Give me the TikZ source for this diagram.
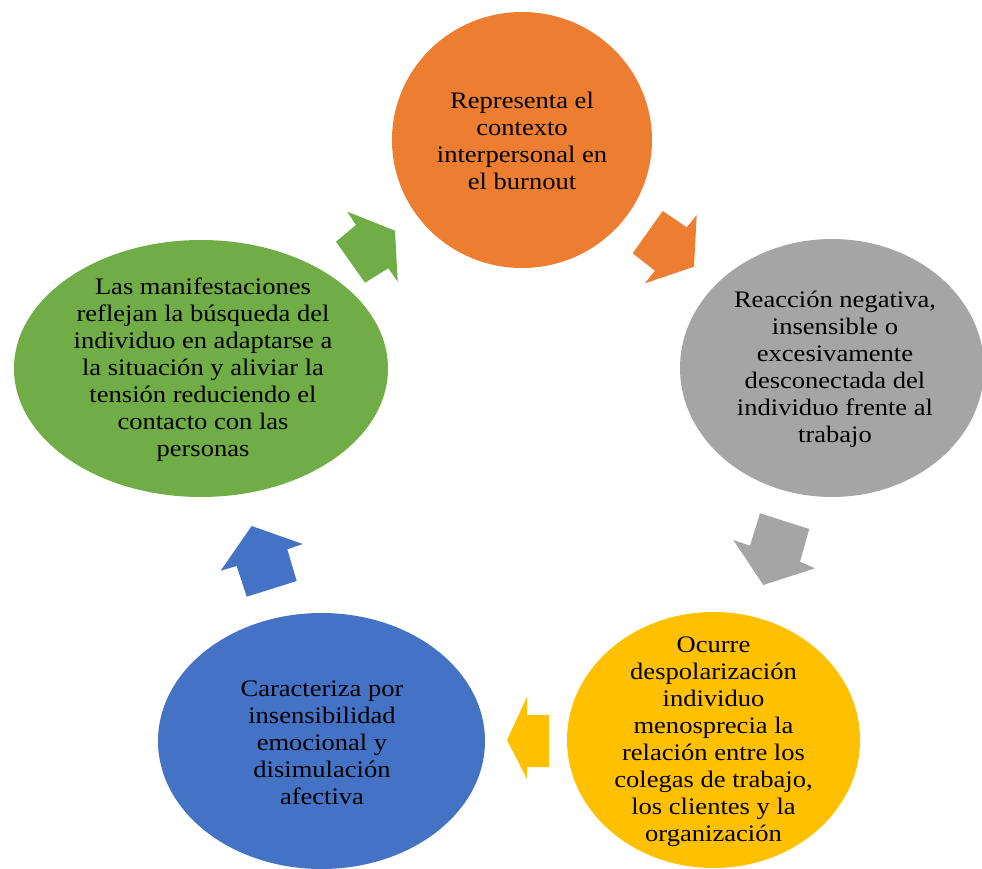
\documentclass[tikz,border=0pt]{standalone}
\usepackage{fontspec}
\setmainfont{Liberation Serif}[FakeStretch=1.12]
\definecolor{cOrange}{HTML}{ED7D31}
\definecolor{cGray}{HTML}{A5A5A5}
\definecolor{cYellow}{HTML}{FFC000}
\definecolor{cBlue}{HTML}{4472C4}
\definecolor{cGreen}{HTML}{70AD47}
\begin{document}
\begin{tikzpicture}[x=1pt,y=-1pt,
  blob/.style={ellipse, inner sep=0pt},
  lbl/.style={align=center, font=\fontsize{23.7}{27}\selectfont, text=black, inner sep=0pt},
  blockarrow/.style={draw=none}]
\useasboundingbox (0,0) rectangle (982,869);
% ellipses
\fill[cOrange] (522,140) ellipse [x radius=130, y radius=128];
\fill[cGray] (832,368) ellipse [x radius=152, y radius=129];
\fill[cYellow] (713.5,740) ellipse [x radius=146.5, y radius=128];
\fill[cBlue] (321.5,741) ellipse [x radius=163.5, y radius=128];
\fill[cGreen] (201,368.5) ellipse [x radius=187, y radius=128.5];
% labels
\node[lbl] (t1) at (522,141) {Representa el\\contexto\\interpersonal en\\el burnout};
\node[lbl] (t2) at (835,369) {Reacción negativa,\\insensible o\\excesivamente\\desconectada del\\individuo frente al\\trabajo};
\node[lbl] (t3) at (713.5,742) {Ocurre\\despolarización\\individuo\\menosprecia la\\relación entre los\\colegas de trabajo,\\los clientes y la\\organización};
\node[lbl] (t4) at (322,743) {Caracteriza por\\insensibilidad\\emocional y\\disimulación\\afectiva};
\node[lbl] (t5) at (203,370) {Las manifestaciones\\reflejan la búsqueda del\\individuo en adaptarse a\\la situación y aliviar la\\tensión reduciendo el\\contacto con las\\personas};
% block arrows
\fill[cOrange, blockarrow] (662.7,211) -- (686.7,227.3) -- (696.7,215) -- (694,266.7) -- (645,283.3) -- (655,270.7) -- (632.7,253.3) -- cycle;
\fill[cGray, blockarrow] (760,513.3) -- (809.3,529) -- (800,561.7) -- (815,568.3) -- (763.3,585) -- (733.3,540) -- (750,545.7) -- cycle;
\fill[cYellow, blockarrow] (549,715) -- (549,767) -- (527,767) -- (527,779) -- (507,740) -- (527,697) -- (527,715) -- cycle;
\fill[cBlue, blockarrow] (251.7,526) -- (302.7,544) -- (287.3,549.3) -- (296.7,581) -- (246.7,596.7) -- (236.7,566) -- (220.7,570.7) -- cycle;
\fill[cGreen, blockarrow] (347.3,211.7) -- (395,230.7) -- (397.7,281.7) -- (388.3,268.3) -- (365,282.7) -- (336,241.7) -- (356,225) -- cycle;
\end{tikzpicture}
\end{document}
